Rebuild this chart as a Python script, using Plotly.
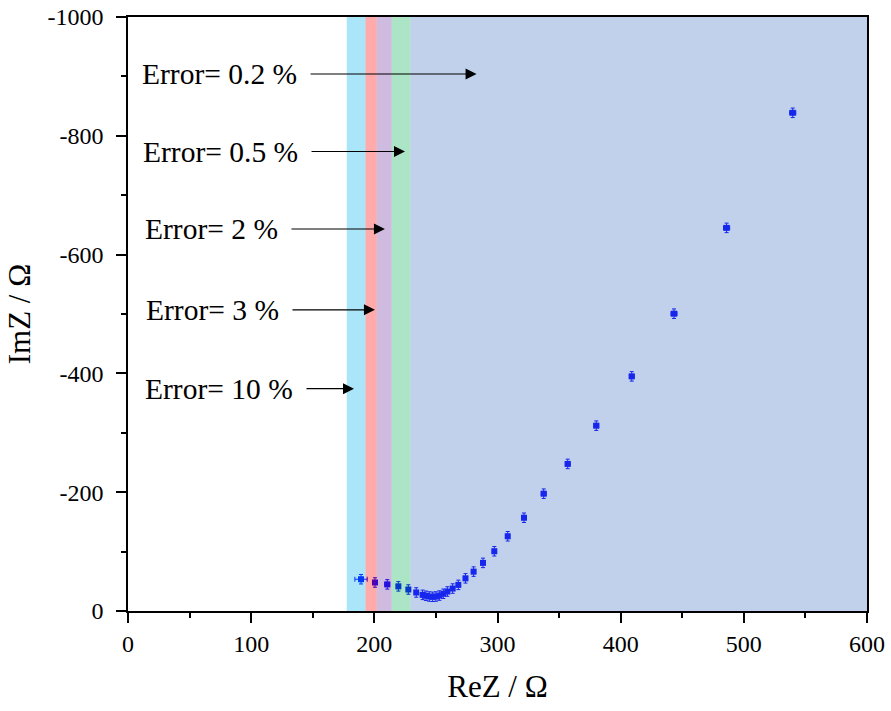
import plotly.graph_objects as go

# Nyquist data: real part, imaginary part (ohm) and their uncertainties
re_z = [189.2, 200.5, 210.5, 219.5, 227.6, 234.0, 239.2, 241.9, 244.6, 247.4,
        250.0, 252.8, 256.0, 259.3, 263.6, 268.2, 274.0, 280.6, 288.2, 297.4,
        308.3, 321.5, 337.5, 357.0, 380.2, 409.0, 443.3, 486.0, 539.7]
im_z = [-53.5, -48.0, -44.8, -41.5, -36.2, -31.2, -27.2, -25.6, -24.4, -23.9,
        -24.4, -26.0, -29.0, -32.8, -37.8, -44.0, -55.0, -66.3, -81.0, -100.6,
        -125.8, -157.0, -197.5, -247.6, -312.0, -395.0, -500.5, -645.0, -838.7]
re_err = [5.0, 2.0, 2.0, 1.5, 1.5, 1.2, 1.2, 1.2, 1.2, 1.2,
          1.2, 1.2, 1.2, 1.2, 1.2, 1.2, 1.5, 1.5, 1.5, 1.5,
          1.5, 1.5, 2.0, 2.0, 2.0, 2.0, 2.5, 2.5, 2.5]
im_err = [8.0] * len(re_z)

# Error-level regions along ReZ
band_edges = [177.6, 192.8, 202.0, 214.1, 229.3, 600.0]
band_colors = ["#00B0F0", "#FF0000", "#7030A0", "#00B050", "#4472C4"]

# Arrow labels: text, tail x, head x, y
error_labels = ["Error= 0.2 %", "Error= 0.5 %", "Error= 2 %", "Error= 3 %", "Error= 10 %"]
arrow_tail_x = [147.0, 147.8, 131.5, 132.3, 143.7]
arrow_head_x = [283.0, 224.9, 208.6, 200.5, 183.5]
arrow_y = [-904.0, -773.5, -643.0, -507.0, -374.3]

x_ticks = [0, 100, 200, 300, 400, 500, 600]
y_ticks = [0, -200, -400, -600, -800, -1000]
y_tick_text = ["0", "-200", "-400", "-600", "-800", "-1000"]

FONT = "Liberation Serif, Times New Roman, serif"

fig = go.Figure()

fig.add_trace(go.Scatter(
    x=re_z, y=im_z, mode="markers",
    marker=dict(symbol="square", size=6, color="rgb(0,0,255)"),
    error_x=dict(type="data", array=re_err, color="rgb(0,0,255)", thickness=1, width=2.5),
    error_y=dict(type="data", array=im_err, color="rgb(0,0,255)", thickness=1, width=2),
    showlegend=False,
))

for i, col in enumerate(band_colors):
    fig.add_shape(type="rect", xref="x", yref="y",
                  x0=band_edges[i], x1=band_edges[i + 1], y0=0, y1=-1000,
                  fillcolor=col, opacity=0.33, line=dict(width=0), layer="above")

for label, tx, hx, ay in zip(error_labels, arrow_tail_x, arrow_head_x, arrow_y):
    fig.add_annotation(x=hx, y=ay, ax=tx, ay=ay, axref="x", ayref="y",
                       xref="x", yref="y", text="", showarrow=True,
                       arrowhead=2, arrowsize=2.0, arrowwidth=1.1, arrowcolor="black")
    fig.add_annotation(x=tx, y=ay, xref="x", yref="y", text=label, showarrow=False,
                       xanchor="right", yanchor="middle", xshift=-10,
                       font=dict(family=FONT, size=29.5, color="black"))

axis_common = dict(
    showline=True, linecolor="black", linewidth=1.5, mirror=True,
    ticks="outside", ticklen=10, tickwidth=1.5, tickcolor="black",
    showgrid=False, zeroline=False, automargin=False,
    tickfont=dict(family=FONT, size=24, color="black"),
)

fig.update_xaxes(
    range=[0, 600], tickvals=x_ticks,
    minor=dict(ticks="outside", ticklen=5, tickwidth=1.5, tickcolor="black", dtick=50, showgrid=False),
    title=dict(text="ReZ / Ω", font=dict(family=FONT, size=31, color="black"), standoff=20),
    **axis_common,
)
fig.update_yaxes(
    range=[0, -1000], tickvals=y_ticks, ticktext=y_tick_text,
    minor=dict(ticks="outside", ticklen=5, tickwidth=1.5, tickcolor="black", dtick=100, showgrid=False),
    title=dict(text="ImZ / Ω", font=dict(family=FONT, size=31, color="black"), standoff=8),
    ticklabelstandoff=8,
    **axis_common,
)

fig.update_layout(
    width=891, height=711,
    margin=dict(l=128, r=24, t=17, b=100),
    plot_bgcolor="white", paper_bgcolor="white",
)

fig.write_html("out.html")
